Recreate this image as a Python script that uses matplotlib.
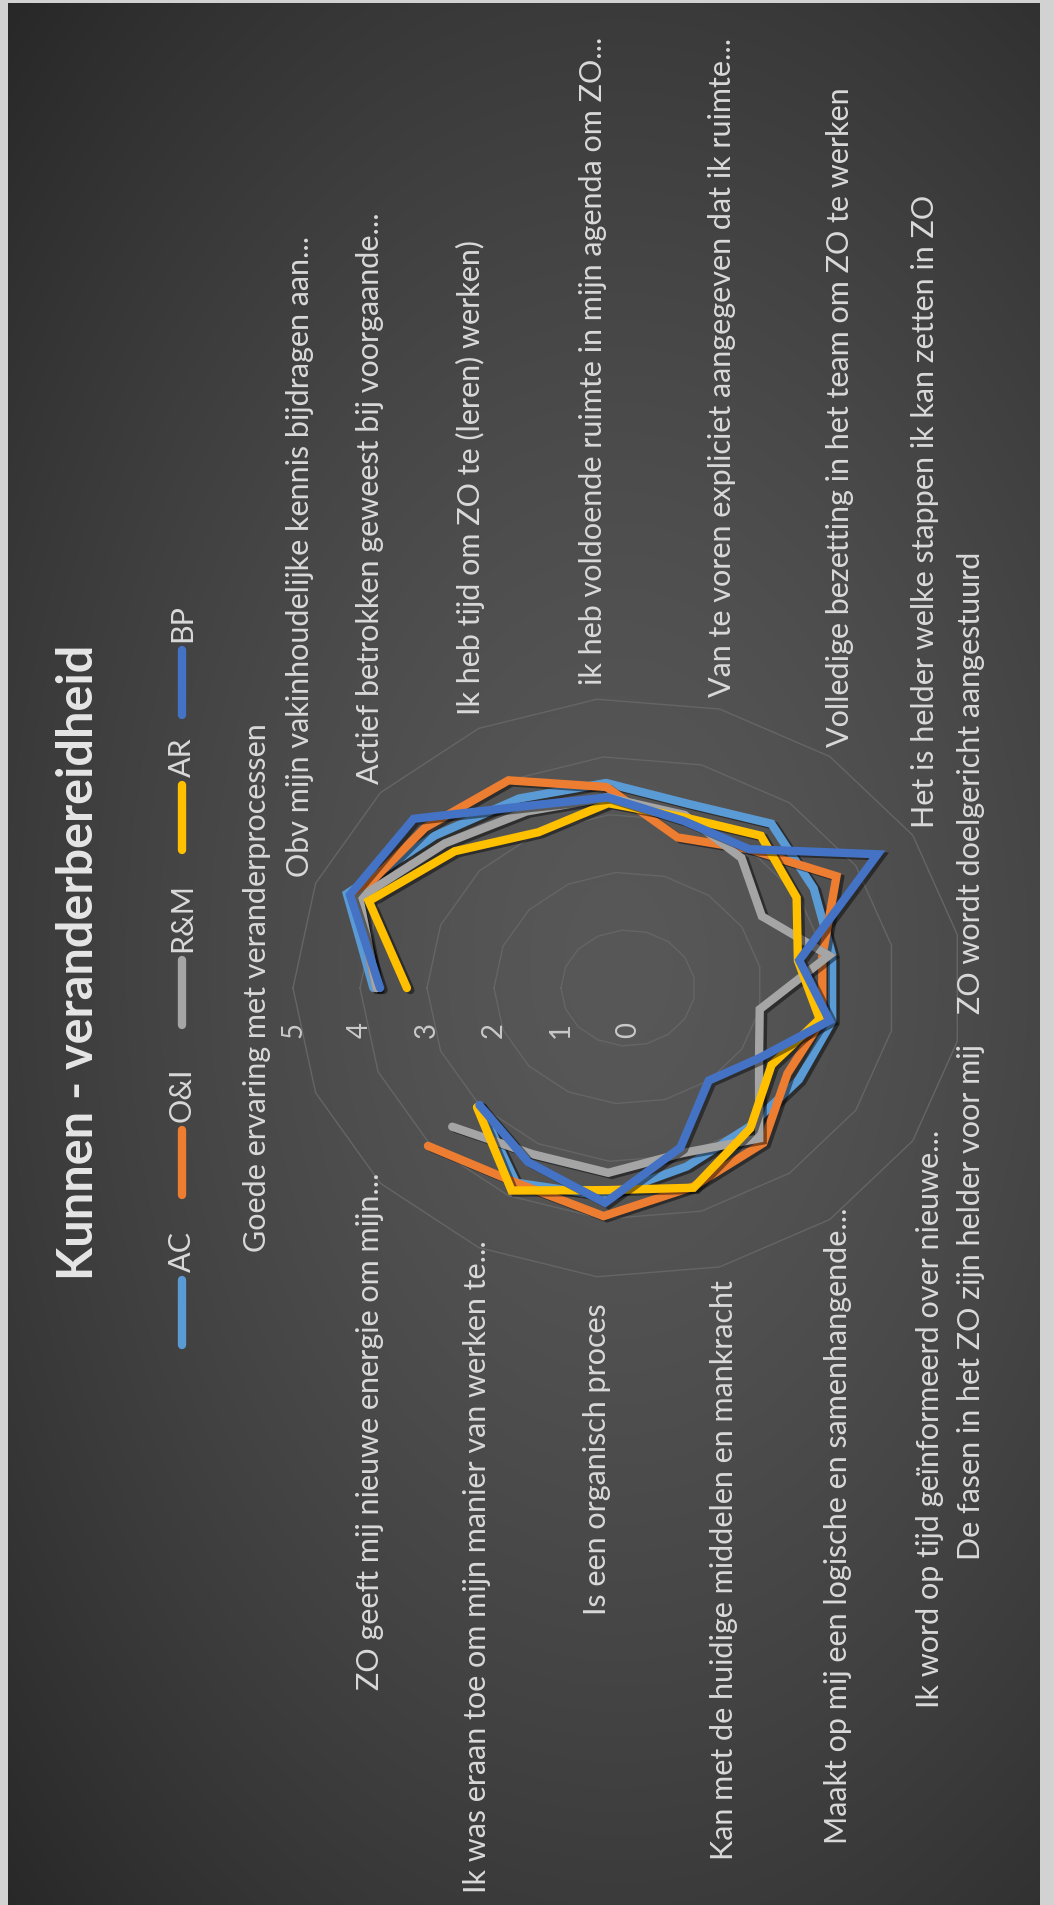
import numpy as np
import matplotlib
matplotlib.use('Agg')
import matplotlib.pyplot as plt
import matplotlib.patheffects as pe
from matplotlib import font_manager as fm

# ---- data ----
categories = [
    'Goede ervaring met veranderprocessen',
    'Obv mijn vakinhoudelijke kennis bijdragen aan...',
    'Actief betrokken geweest bij voorgaande...',
    'Ik heb tijd om ZO te (leren) werken)',
    'ik heb voldoende ruimte in mijn agenda om ZO...',
    'Van te voren expliciet aangegeven dat ik ruimte...',
    'Volledige bezetting in het team om ZO te werken',
    'Het is helder welke stappen ik kan zetten in ZO',
    'ZO wordt doelgericht aangestuurd',
    'De fasen in het ZO zijn helder voor mij',
    'Ik word op tijd geïnformeerd over nieuwe...',
    'Maakt op mij een logische en samenhangende...',
    'Kan met de huidige middelen en mankracht',
    'Is een organisch proces',
    'Ik was eraan toe om mijn manier van werken te...',
    'ZO geeft mij nieuwe energie om mijn...',
    '',
]
series_names = ['AC', 'O&I', 'R&M', 'AR', 'BP']
series_colors = ['#5B9BD5', '#ED7D31', '#A5A5A5', '#FFC000', '#4472C4']
nan = np.nan
ac = [3.8, 4.5, 3.9, 3.65, 3.55, 3.3, 3.55, 3.26, 3.1, 3.1, 3.0, 3.0, 3.2, 3.6, 3.75, 3.0, nan]
oi = [3.75, 4.35, 4.1, 4.0, 3.48, 2.7, 3.0, 3.66, 2.95, 2.95, 2.8, 3.35, 3.56, 3.95, 3.75, 4.04, nan]
rm = [3.75, 4.3, 3.7, 3.4, 3.3, 3.1, 2.81, 2.35, 3.05, 2.0, 2.3, 3.25, 2.96, 3.2, 3.2, 3.55, nan]
ar = [3.3, 4.15, 3.5, 3.0, 3.2, 3.06, 3.29, 2.96, 2.58, 2.91, 2.52, 3.03, 3.58, 3.5, 3.9, 3.05, nan]
bp = [3.7, 4.45, 4.33, 3.5, 3.3, 3.0, 3.0, 4.38, 2.6, 3.06, 2.3, 2.0, 2.86, 3.72, 3.35, 3.0, nan]
series_values = [ac, oi, rm, ar, bp]
ticks = [0, 1, 2, 3, 4, 5]
title = 'Kunnen - veranderbereidheid'

# ---- layout (pixels, picture is the excel chart turned a quarter left) ----
W, H = 1054, 1905
CX, CY = 628, 988      # centre of the radar
SX, SY = 67, 58        # pixels per unit, the chart is stretched

# label anchor: x centre, y where the text starts/ends, alignment
label_pos = [(257, 988, 'center'), (300, 877, 'left'), (370, 784, 'left'),
             (470, 715, 'left'), (593, 685, 'left'), (722, 697, 'left'),
             (840, 747, 'left'), (925, 828, 'left'), (971, 1014, 'left'),
             (971, 1044, 'right'), (930, 1130, 'right'), (838, 1208, 'right'),
             (724, 1280, 'right'), (597, 1303, 'right'), (477, 1240, 'right'),
             (370, 1172, 'right'), None]
# legend: line start y, line end y, text start y
legend_pos = [(1345, 1280, 1272), (1195, 1130, 1122), (1025, 960, 952),
              (850, 785, 777), (715, 650, 642)]
LEG_X = 182


def font_ok(name):
    try:
        fm.findfont(fm.FontProperties(family=name), fallback_to_default=False)
        return True
    except Exception:
        return False


if font_ok('Liberation Sans Narrow'):
    FONT, FS, TFS = 'Liberation Sans Narrow', 25, 39
elif font_ok('DejaVu Sans Condensed'):
    FONT, FS, TFS = 'DejaVu Sans Condensed', 21, 33
else:
    FONT, FS, TFS = 'Lato', 22, 35
plt.rcParams['font.family'] = [FONT, 'DejaVu Sans']


def px(x, y):
    return (x - CX) / SX, (CY - y) / SY


fig = plt.figure(figsize=(W / 100, H / 100), dpi=100, facecolor='#d2d2d2')

# background with soft radial gradient
bl, bt, br = 8, 3, 14
bg = fig.add_axes([bl / W, 0, (W - bl - br) / W, (H - bt) / H])
yy, xx = np.mgrid[0:H - bt, 0:W - bl - br]
d = np.sqrt(((xx - 610) / 700.0) ** 2 + ((yy - 960) / 1100.0) ** 2)
val = (88 - 36 * np.clip(d, 0, 1.4) ** 1.4) / 255.0
bg.imshow(np.dstack([val, val, val]), aspect='auto', interpolation='bilinear')
bg.axis('off')

ax = fig.add_axes([0, 0, 1, 1])
ax.set_facecolor('none')
ax.set_xlim(-CX / SX, (W - CX) / SX)
ax.set_ylim((CY - H) / SY, CY / SY)
ax.axis('off')

n = len(categories)
theta = np.arange(n) * 2 * np.pi / n
cx_dir = -np.cos(theta)   # category 0 points to the left
cy_dir = np.sin(theta)

# grid rings
for k in ticks[1:]:
    xs = np.append(k * cx_dir, k * cx_dir[0])
    ys = np.append(k * cy_dir, k * cy_dir[0])
    ax.plot(xs, ys, color='#656565', lw=1.0, zorder=1)

# tick labels
for k in ticks:
    x, y = px(CX - k * SX, 1030)
    ax.text(x, y, str(k), rotation=90, rotation_mode='anchor', ha='center',
            va='center', fontsize=FS * 0.9, color='#c9c9c9', zorder=2)

# series
shadow = [pe.SimpleLineShadow(offset=(2.5, -1.5), shadow_color='black', alpha=0.45),
          pe.Normal()]
for i, (name, vals, col) in enumerate(zip(series_names, series_values, series_colors)):
    v = np.array(vals, dtype=float)
    ax.plot(v * cx_dir, v * cy_dir, color=col, lw=6.0, solid_joinstyle='miter',
            solid_capstyle='round', zorder=3 + i, path_effects=shadow)

# category labels
for lab, pos in zip(categories, label_pos):
    if pos is None or not lab:
        continue
    x, y = px(pos[0], pos[1])
    ax.text(x, y, lab, rotation=90, rotation_mode='anchor', ha=pos[2],
            va='center', fontsize=FS, color='#d9d9d9', zorder=10)

# title
x, y = px(79, 962)
ax.text(x, y, title, rotation=90, rotation_mode='anchor', ha='center', va='center',
        fontsize=TFS, fontweight='bold', color='#e6e6e6', zorder=10)

# legend
for name, col, (y0, y1, yt) in zip(series_names, series_colors, legend_pos):
    xa, ya = px(LEG_X, y0)
    xb, yb = px(LEG_X, y1)
    ax.plot([xa, xb], [ya, yb], color=col, lw=6.0, solid_capstyle='round', zorder=10)
    xt, ytt = px(LEG_X, yt)
    ax.text(xt, ytt, name, rotation=90, rotation_mode='anchor', ha='left', va='center',
            fontsize=FS, color='#d9d9d9', zorder=10)

fig.savefig('out.png', dpi=100, facecolor=fig.get_facecolor())
